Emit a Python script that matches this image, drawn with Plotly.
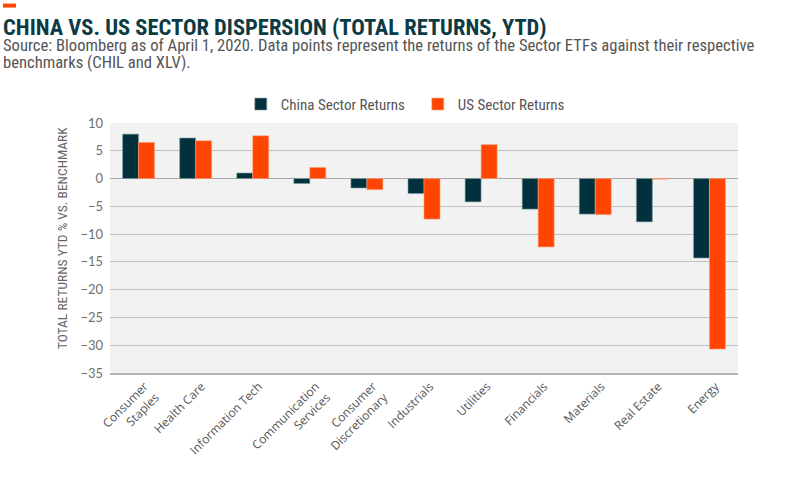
import plotly.graph_objects as go

categories = ["Consumer<br>Staples", "Health Care", "Information Tech", "Communication<br>Services",
              "Consumer<br>Discretionary", "Industrials", "Utilities", "Financials",
              "Materials", "Real Estate", "Energy"]
china_returns = [8.0, 7.3, 1.0, -0.9, -1.7, -2.7, -4.2, -5.5, -6.4, -7.8, -14.3]
us_returns = [6.5, 6.8, 7.7, 2.0, -2.0, -7.3, 6.1, -12.3, -6.5, -0.1, -30.7]
y_ticks = [10, 5, 0, -5, -10, -15, -20, -25, -30, -35]

W, H = 800, 479
L, R, T, B = 110, 62.3, 122.7, 105.7
PW, PH = W - L - R, H - T - B


def px(x):
    return (x - L) / PW


def py(y):
    return (H - B - y) / PH


fig = go.Figure()
fig.add_trace(go.Bar(x=categories, y=china_returns, name="China Sector Returns",
                     marker=dict(color="#00313c", line=dict(color="#8aa3a8", width=0.6))))
fig.add_trace(go.Bar(x=categories, y=us_returns, name="US Sector Returns",
                     marker=dict(color="#fe4502", line=dict(color="#ffa27a", width=0.6))))

fig.update_layout(
    width=W, height=H,
    margin=dict(l=L, r=R, t=T, b=B, autoexpand=False),
    paper_bgcolor="white", plot_bgcolor="#f2f2f2",
    barmode="group", bargap=0.44, bargroupgap=0,
    font=dict(family="Lato, Roboto, sans-serif", color="#666666"),
    legend=dict(orientation="h", x=0.301, xanchor="left", xref="container",
                y=0.7478, yanchor="bottom", yref="container", entrywidth=132,
                font=dict(family="Roboto Condensed, Roboto, sans-serif", size=15, color="#555555"),
                traceorder="normal"),
    xaxis=dict(tickangle=-45, tickfont=dict(family="Open Sans, sans-serif", size=12, color="#555555"),
               showgrid=False, showline=True, linecolor="#b4b4b4", linewidth=1.5, ticks="",
               ticklabelshift=6, automargin=False),
    yaxis=dict(range=[-35, 10], tickvals=y_ticks, tickfont=dict(size=13, color="#707070"),
               gridcolor="#c0c0c0", gridwidth=1, zeroline=True, zerolinecolor="#a8a8a8",
               zerolinewidth=1.2, ticks="", ticklabelstandoff=6, automargin=False),
)

fig.add_shape(type="rect", xref="paper", yref="paper", x0=px(3), x1=px(16), y0=py(7), y1=py(3),
              fillcolor="#fe4502", line=dict(width=0))
fig.add_annotation(text="<b>CHINA VS. US SECTOR DISPERSION (TOTAL RETURNS, YTD)</b>",
                   xref="paper", yref="paper", x=px(1), y=py(26), xanchor="left", yanchor="middle",
                   showarrow=False, font=dict(family="Roboto Condensed, sans-serif",
                                              size=22.5, color="#0d3b44"))
fig.add_annotation(text="Source: Bloomberg as of April 1, 2020. Data points represent the returns of the Sector ETFs against their respective",
                   xref="paper", yref="paper", x=px(1), y=py(45), xanchor="left", yanchor="middle", align="left",
                   showarrow=False, font=dict(family="Roboto Condensed, Roboto, sans-serif", size=16.6, color="#555555"))
fig.add_annotation(text="benchmarks (CHIL and XLV).",
                   xref="paper", yref="paper", x=px(1), y=py(62.5), xanchor="left", yanchor="middle", align="left",
                   showarrow=False, font=dict(family="Roboto Condensed, Roboto, sans-serif", size=16.6, color="#555555"))
fig.add_annotation(text="TOTAL RETURNS YTD % VS. BENCHMARK", textangle=-90,
                   xref="paper", yref="paper", x=px(61.7), y=py(238.5), xanchor="center", yanchor="middle",
                   showarrow=False, font=dict(family="Roboto Condensed, Roboto, sans-serif", size=13.5, color="#666666"))

fig.write_html("out.html", post_script="document.body.style.margin='0';",
               config={"displayModeBar": False})
